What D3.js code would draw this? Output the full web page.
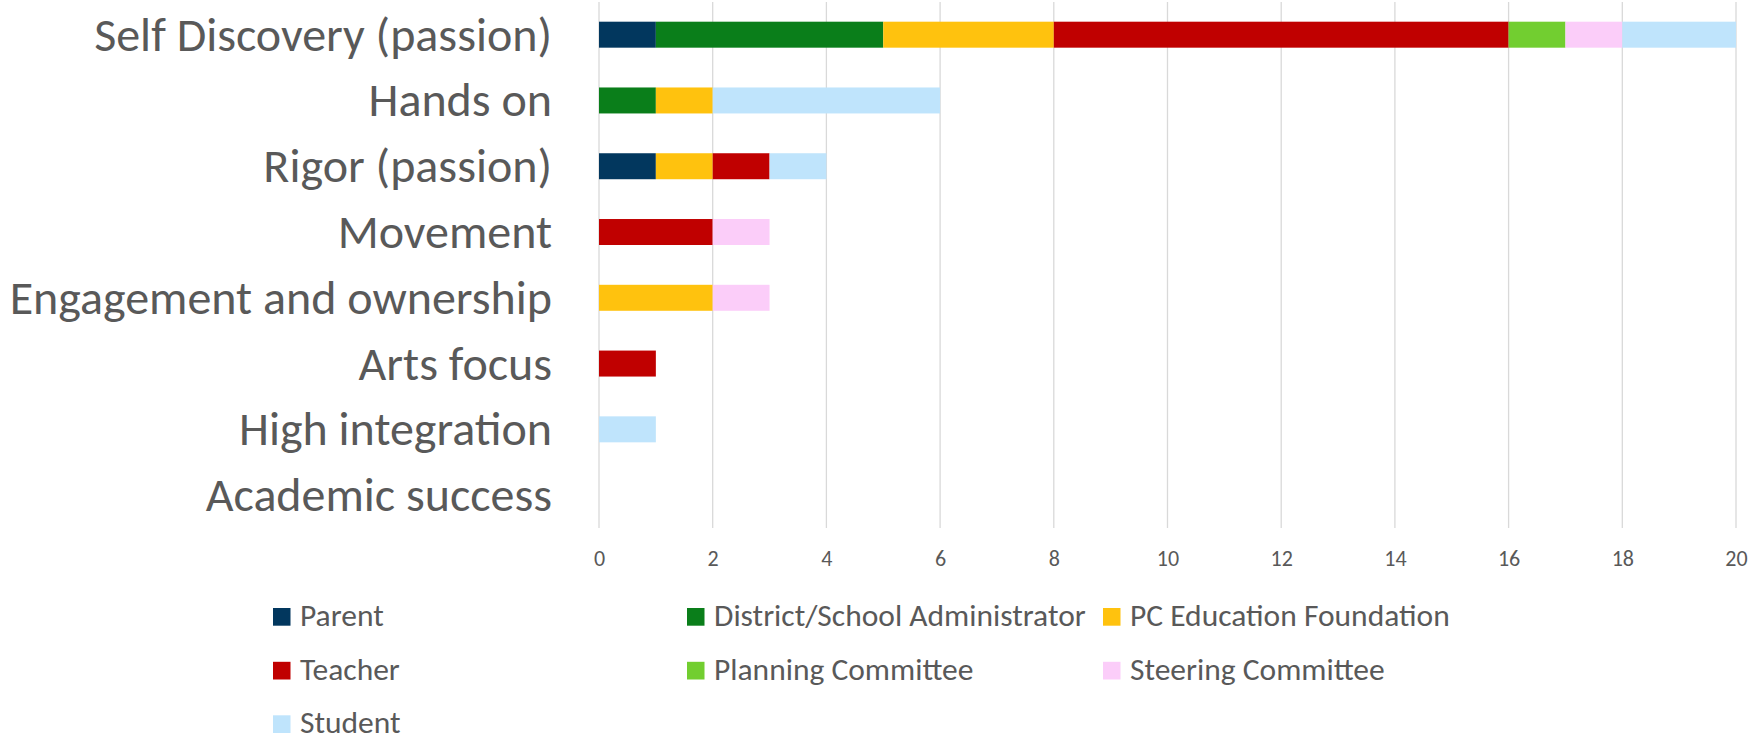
<!DOCTYPE html>
<html>
<head>
<meta charset="utf-8">
<script src="https://cdn.jsdelivr.net/npm/d3@7"></script>
<style>
  html, body { margin: 0; padding: 0; background: #ffffff; }
  svg { display: block; }
  text { font-family: Carlito, Lato, "Open Sans", sans-serif; fill: #595959; }
</style>
</head>
<body>
<div id="chart"></div>
<script>
// Categories, top to bottom
const categories = [
  "Self Discovery (passion)",
  "Hands on",
  "Rigor (passion)",
  "Movement",
  "Engagement and ownership",
  "Arts focus",
  "High integration",
  "Academic success"
];

// Series (stack order, left to right)
const seriesNames = [
  "Parent",
  "District/School Administrator",
  "PC Education Foundation",
  "Teacher",
  "Planning Committee",
  "Steering Committee",
  "Student"
];

const seriesColors = ["#02375E", "#0A7E1A", "#FFC20E", "#C00000", "#72CE30", "#FBCDF9", "#BFE4FC"];

// Counts per series, one value per category
const parent        = [1, 0, 1, 0, 0, 0, 0, 0];
const administrator = [4, 1, 0, 0, 0, 0, 0, 0];
const foundation    = [3, 1, 1, 0, 2, 0, 0, 0];
const teacher       = [8, 0, 1, 2, 0, 1, 0, 0];
const planning      = [1, 0, 0, 0, 0, 0, 0, 0];
const steering      = [1, 0, 0, 1, 1, 0, 0, 0];
const student       = [2, 4, 1, 0, 0, 0, 1, 0];

const xTicks = [0, 2, 4, 6, 8, 10, 12, 14, 16, 18, 20];

const seriesValues = [parent, administrator, foundation, teacher, planning, steering, student];

const W = 1756, H = 743;
const svg = d3.select("#chart").append("svg")
  .attr("width", W).attr("height", H);

const rows = categories.map((c, i) => {
  const r = { category: c };
  seriesNames.forEach((s, k) => { r[s] = seriesValues[k][i]; });
  return r;
});

const stacked = d3.stack().keys(seriesNames)(rows);

const x = d3.scaleLinear().domain([0, 20]).range([599, 1736]);
const y = d3.scaleBand().domain(categories).range([1.8, 528])
  .paddingInner(0.605).paddingOuter(0.3025);

// vertical gridlines
svg.append("g").selectAll("line").data(xTicks).join("line")
  .attr("x1", d => x(d)).attr("x2", d => x(d))
  .attr("y1", 2).attr("y2", 528)
  .attr("stroke", "#d9d9d9").attr("stroke-width", 1.3);

// stacked bars
svg.append("g").selectAll("g").data(stacked).join("g")
  .attr("fill", (d, i) => seriesColors[i])
  .selectAll("rect").data(d => d.filter(p => p[1] - p[0] > 0)).join("rect")
  .attr("x", d => x(d[0]))
  .attr("width", d => x(d[1]) - x(d[0]))
  .attr("y", d => y(d.data.category))
  .attr("height", y.bandwidth());

// category labels
const yAxis = d3.axisLeft(y).tickSize(0).tickPadding(0);
const gy = svg.append("g").attr("transform", "translate(552,0)").call(yAxis);
gy.select(".domain").remove();
gy.selectAll("text")
  .attr("x", 0).attr("dy", null)
  .attr("y", 16)
  .style("font-size", "48px")
  .style("fill", "#595959")
  .style("font-family", "Carlito, Lato, 'Open Sans', sans-serif")
  .attr("text-anchor", "end");

// x axis tick labels
const xAxis = d3.axisBottom(x).tickValues(xTicks).tickSize(0).tickPadding(0);
const gx = svg.append("g").attr("transform", "translate(0,566)").call(xAxis);
gx.select(".domain").remove();
gx.selectAll("text")
  .attr("y", 0).attr("dy", null)
  .style("font-size", "22px")
  .style("fill", "#595959")
  .style("font-family", "Carlito, Lato, 'Open Sans', sans-serif");

// legend
const legendCols = [273, 687, 1103];
const legendRows = [625.7, 679.5, 733];
const legend = svg.append("g").selectAll("g").data(seriesNames).join("g")
  .attr("transform", (d, i) => `translate(${legendCols[i % 3]},${legendRows[Math.floor(i / 3)]})`);
legend.append("rect")
  .attr("x", 0).attr("y", -17.7).attr("width", 17.5).attr("height", 17.7)
  .attr("fill", (d, i) => seriesColors[i]);
legend.append("text")
  .attr("x", 27).attr("y", 0)
  .style("font-size", "31.5px")
  .text(d => d);
</script>
</body>
</html>
